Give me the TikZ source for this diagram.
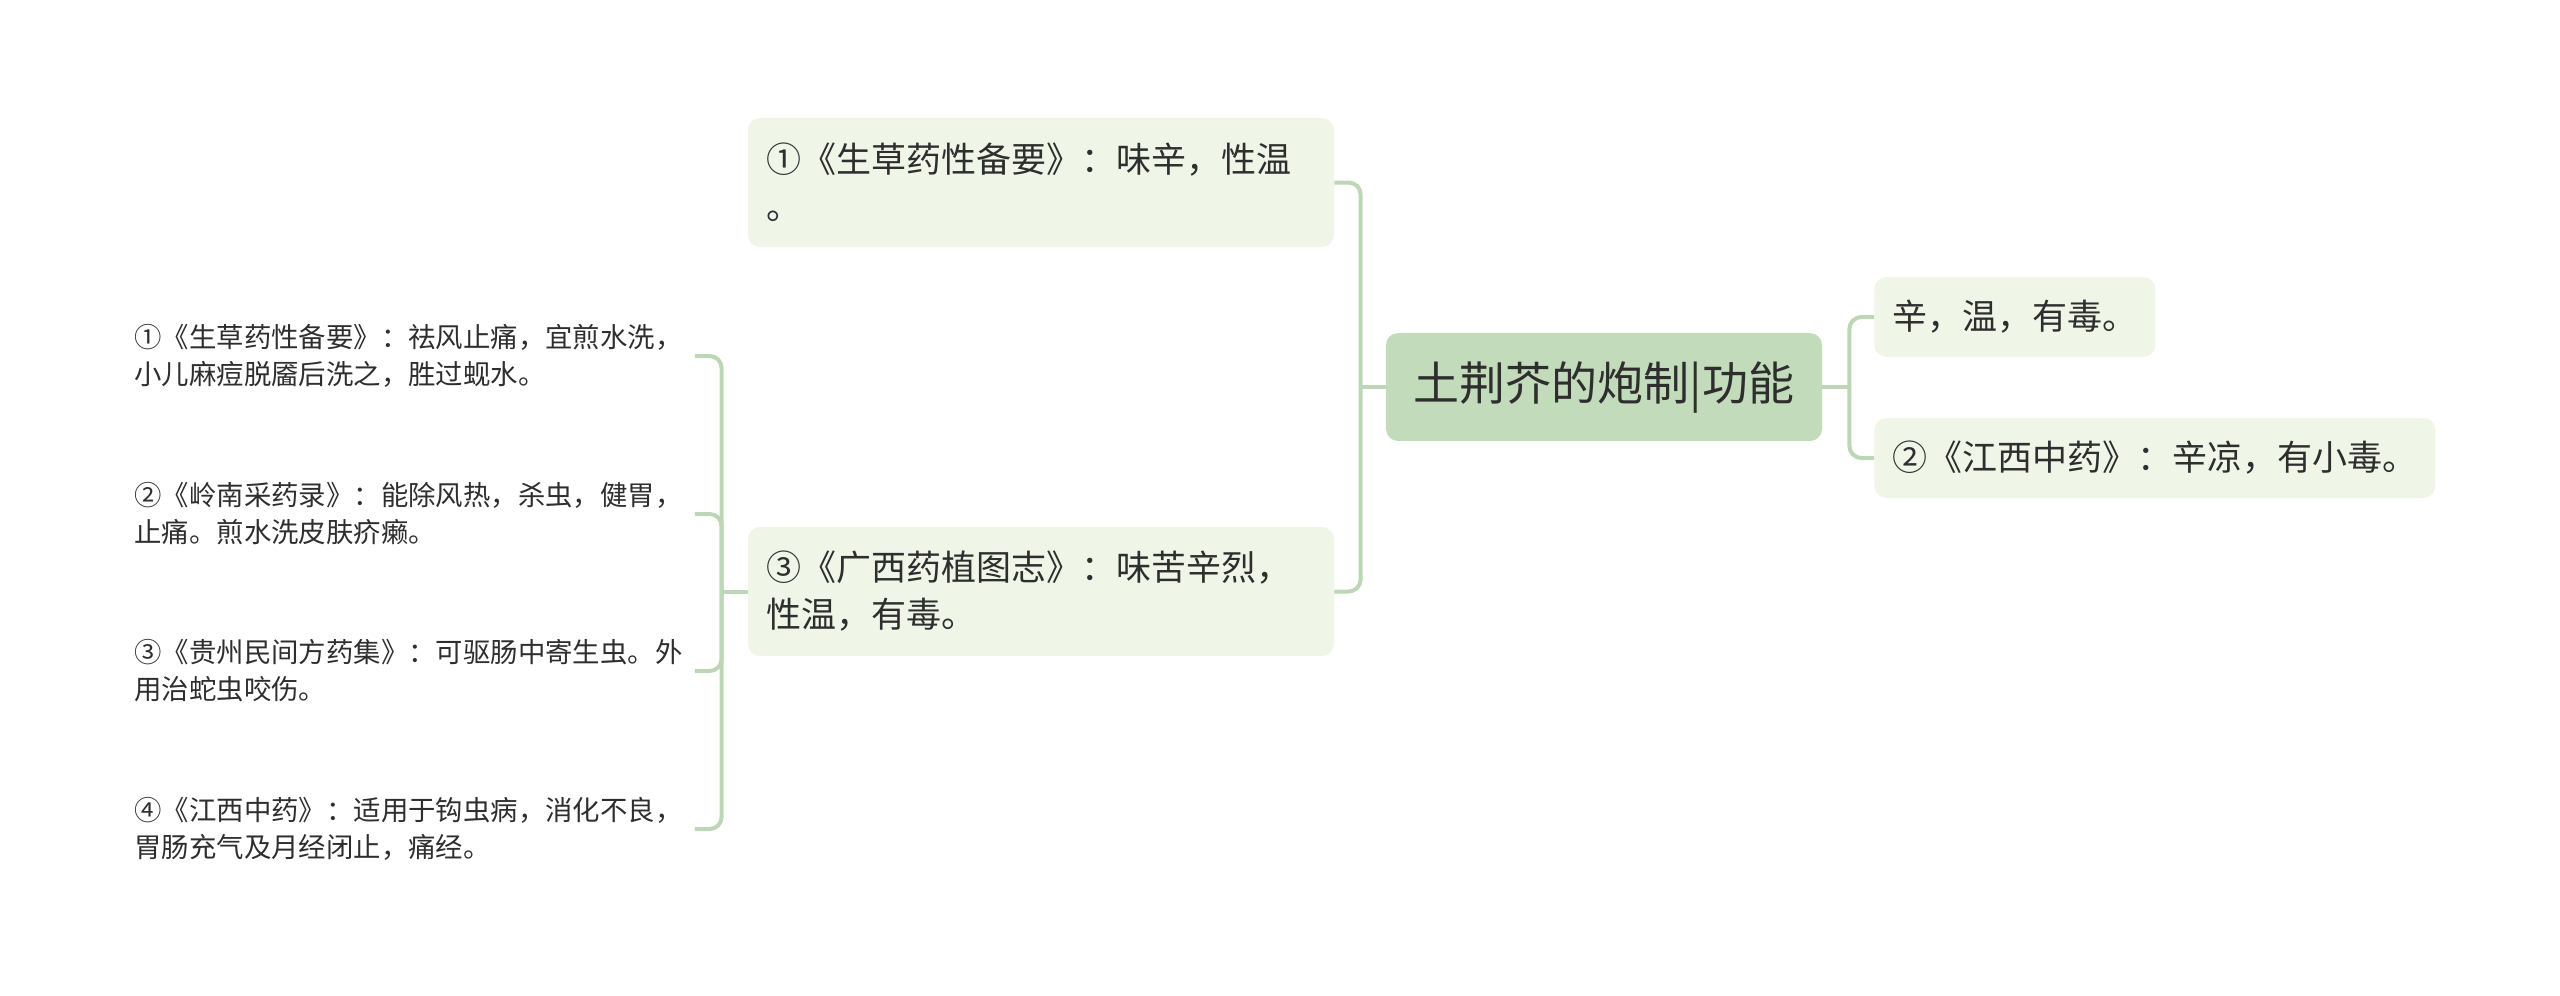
\documentclass[tikz,border=0pt]{standalone}
\usepackage{fontspec}
\setmainfont{Noto Sans CJK SC}
\usetikzlibrary{calc}
\definecolor{mainfill}{HTML}{C2DBBB}
\definecolor{subfill}{HTML}{EFF6E8}
\definecolor{linec}{HTML}{BDD7B6}
\definecolor{txt}{HTML}{2E2E2E}
\begin{document}
\begin{tikzpicture}[x=0.5pt,y=-0.5pt,
  rootbox/.style={fill=mainfill, rounded corners=6pt, minimum width=218pt, minimum height=54pt, inner sep=0pt, text=txt, font=\fontsize{23pt}{28pt}\selectfont},
  bigsub/.style={fill=subfill, rounded corners=6pt, minimum width=293pt, minimum height=64.5pt, inner xsep=9pt, inner ysep=0pt, text width=275pt, align=left, text=txt, font=\fontsize{17.5pt}{23.5pt}\selectfont},
  smallsub/.style={fill=subfill, rounded corners=6pt, minimum height=40pt, inner xsep=9pt, inner ysep=0pt, text=txt, font=\fontsize{17.5pt}{23.5pt}\selectfont},
  leaf/.style={inner sep=0pt, text width=280pt, align=left, text=txt, font=\fontsize{13.7pt}{18.5pt}\selectfont},
  conn/.style={draw=linec, line width=2pt, rounded corners=6pt}
]
\useasboundingbox (0,0) rectangle (2560,996);

\node[rootbox] (c) at (1604,387) {土荆芥的炮制|功能};

\node[bigsub] (n1) at (1041,182.5) {①《生草药性备要》：味辛，性温\\。};
\node[bigsub] (n3) at (1041,591.5) {③《广西药植图志》：味苦辛烈，\\性温，有毒。};

\node[smallsub, anchor=west] (r1) at (1874,317) {辛，温，有毒。};
\node[smallsub, anchor=west] (r2) at (1874,458) {②《江西中药》：辛凉，有小毒。};

\node[leaf, anchor=west] (l1) at (134,356) {①《生草药性备要》：祛风止痛，宜煎水洗，\\小儿麻痘脱靥后洗之，胜过蚬水。};
\node[leaf, anchor=west] (l2) at (134,514) {②《岭南采药录》：能除风热，杀虫，健胃，\\止痛。煎水洗皮肤疥癞。};
\node[leaf, anchor=west] (l3) at (134,671) {③《贵州民间方药集》：可驱肠中寄生虫。外\\用治蛇虫咬伤。};
\node[leaf, anchor=west] (l4) at (134,829) {④《江西中药》：适用于钩虫病，消化不良，\\胃肠充气及月经闭止，痛经。};

\coordinate (jL) at ($(c.west)+(-25,0)$);
\coordinate (jR) at ($(c.east)+(27,0)$);
\coordinate (jLL) at ($(n3.west)+(-26,0)$);

\draw[conn] (c.west) -- (jL);
\draw[conn] (jL) |- (n1.east);
\draw[conn] (jL) |- (n3.east);

\draw[conn] (c.east) -- (jR);
\draw[conn] (jR) |- (r1.west);
\draw[conn] (jR) |- (r2.west);

\draw[conn] (n3.west) -- (jLL);
\draw[conn] (jLL) |- (l1.east);
\draw[conn] (jLL) |- (l2.east);
\draw[conn] (jLL) |- (l3.east);
\draw[conn] (jLL) |- (l4.east);
\end{tikzpicture}
\end{document}
